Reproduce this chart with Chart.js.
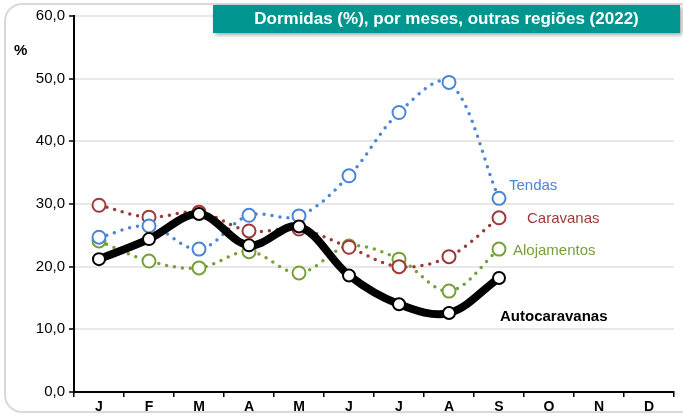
<!DOCTYPE html>
<html>
<head>
<meta charset="utf-8">
<script src="https://cdn.jsdelivr.net/npm/chart.js@4"></script>
<style>
    html, body { margin: 0; padding: 0; background: #fff; overflow: hidden; }
    #wrap { position: relative; width: 683px; height: 416px; }
    #frame {
        position: absolute; left: 4px; top: 3px; width: 700px; height: 410px;
        border: 2px solid #d9d9d9; border-radius: 18px; box-sizing: border-box;
    }
    #title {
        position: absolute; left: 213px; top: 5px; width: 467px; height: 28px;
        background: #00968f; color: #fff; font: bold 17px "Liberation Sans", Arial, sans-serif;
        line-height: 28px; text-align: center; box-shadow: 2px 2px 4px rgba(0,0,0,0.35);
    }
    canvas { position: absolute; left: 0; top: 0; }
</style>
</head>
<body>
<div id="wrap">
    <div id="frame"></div>
    <canvas id="chart" width="683" height="416"></canvas>
    <div id="title">Dormidas (%), por meses, outras regiões (2022)</div>
</div>
<script>
// Data
const months = ['J', 'F', 'M', 'A', 'M', 'J', 'J', 'A', 'S', 'O', 'N', 'D'];
const tendas = [24.7, 26.5, 22.8, 28.2, 28.1, 34.5, 44.6, 49.4, 30.9, null, null, null];
const caravanas = [29.8, 27.9, 28.7, 25.7, 26.0, 23.1, 20.0, 21.6, 27.8, null, null, null];
const alojamentos = [24.1, 20.9, 19.8, 22.4, 19.0, 23.3, 21.2, 16.1, 22.8, null, null, null];
const autocaravanas = [21.2, 24.4, 28.4, 23.4, 26.4, 18.6, 14.0, 12.6, 18.2, null, null, null];
const yTicks = [0, 10, 20, 30, 40, 50, 60];

const FONT = '"Liberation Sans", Arial, sans-serif';

// series labels, anchored to the September point
const seriesLabels = [
    { text: 'Tendas', color: '#4a86d6', dx: 10, y: 32.9, bold: false },
    { text: 'Caravanas', color: '#9e3a38', dx: 28, y: 27.6, bold: false },
    { text: 'Alojamentos', color: '#77a03a', dx: 14, y: 22.6, bold: false },
    { text: 'Autocaravanas', color: '#000', dx: 1, y: 12.0, bold: true }
];

const labelPlugin = {
    id: 'labels',
    afterDatasetsDraw(chart) {
        const ctx = chart.ctx;
        const x = chart.scales.x;
        const y = chart.scales.y;
        ctx.save();
        ctx.textBaseline = 'middle';
        ctx.textAlign = 'left';
        seriesLabels.forEach(l => {
            ctx.font = (l.bold ? 'bold ' : '') + '15px ' + FONT;
            ctx.fillStyle = l.color;
            ctx.fillText(l.text, x.getPixelForValue(8) + l.dx, y.getPixelForValue(l.y));
        });
        ctx.font = 'bold 15px ' + FONT;
        ctx.fillStyle = '#000';
        ctx.fillText('%', 14, 51);
        ctx.restore();
    }
};

function dotted(label, data, color) {
    return {
        label: label,
        data: data,
        borderColor: color,
        borderWidth: 3.5,
        borderDash: [0, 8],
        borderCapStyle: 'round',
        tension: 0.35,
        pointRadius: 6.5,
        pointBorderWidth: 2,
        pointBackgroundColor: '#fff',
        pointBorderColor: color,
        order: 2
    };
}

new Chart(document.getElementById('chart'), {
    type: 'line',
    data: {
        labels: months,
        datasets: [
            {
                label: 'Autocaravanas',
                data: autocaravanas,
                borderColor: '#000',
                borderWidth: 8,
                tension: 0.35,
                pointRadius: 6,
                pointBorderWidth: 2,
                pointBackgroundColor: '#fff',
                pointBorderColor: '#000',
                order: 1
            },
            dotted('Tendas', tendas, '#4a86d6'),
            dotted('Caravanas', caravanas, '#9e3a38'),
            dotted('Alojamentos', alojamentos, '#77a03a')
        ]
    },
    options: {
        responsive: false,
        animation: false,
        layout: { padding: { top: 16, right: 9, left: 0, bottom: 0 } },
        plugins: {
            legend: { display: false },
            tooltip: { enabled: false }
        },
        scales: {
            x: {
                offset: true,
                grid: { offset: true, drawOnChartArea: false, drawTicks: true, tickLength: 5, color: '#000', lineWidth: 1.5 },
                border: { color: '#000', width: 2 },
                ticks: { color: '#000', font: { family: FONT, size: 14, weight: 'bold' }, padding: 2, maxRotation: 0, autoSkip: false },
                afterFit(scale) { scale.height = 24; }
            },
            y: {
                min: 0,
                max: 60,
                afterBuildTicks(scale) { scale.ticks = yTicks.map(v => ({ value: v })); },
                grid: { color: '#e8e8e8', lineWidth: 2, tickLength: 5, tickColor: '#000', tickWidth: 1.5 },
                border: { color: '#000', width: 2 },
                ticks: {
                    color: '#000',
                    font: { family: FONT, size: 15 },
                    padding: 4,
                    callback: v => v.toFixed(1).replace('.', ',')
                },
                afterFit(scale) { scale.width = 74; }
            }
        }
    },
    plugins: [labelPlugin]
});
</script>
</body>
</html>
